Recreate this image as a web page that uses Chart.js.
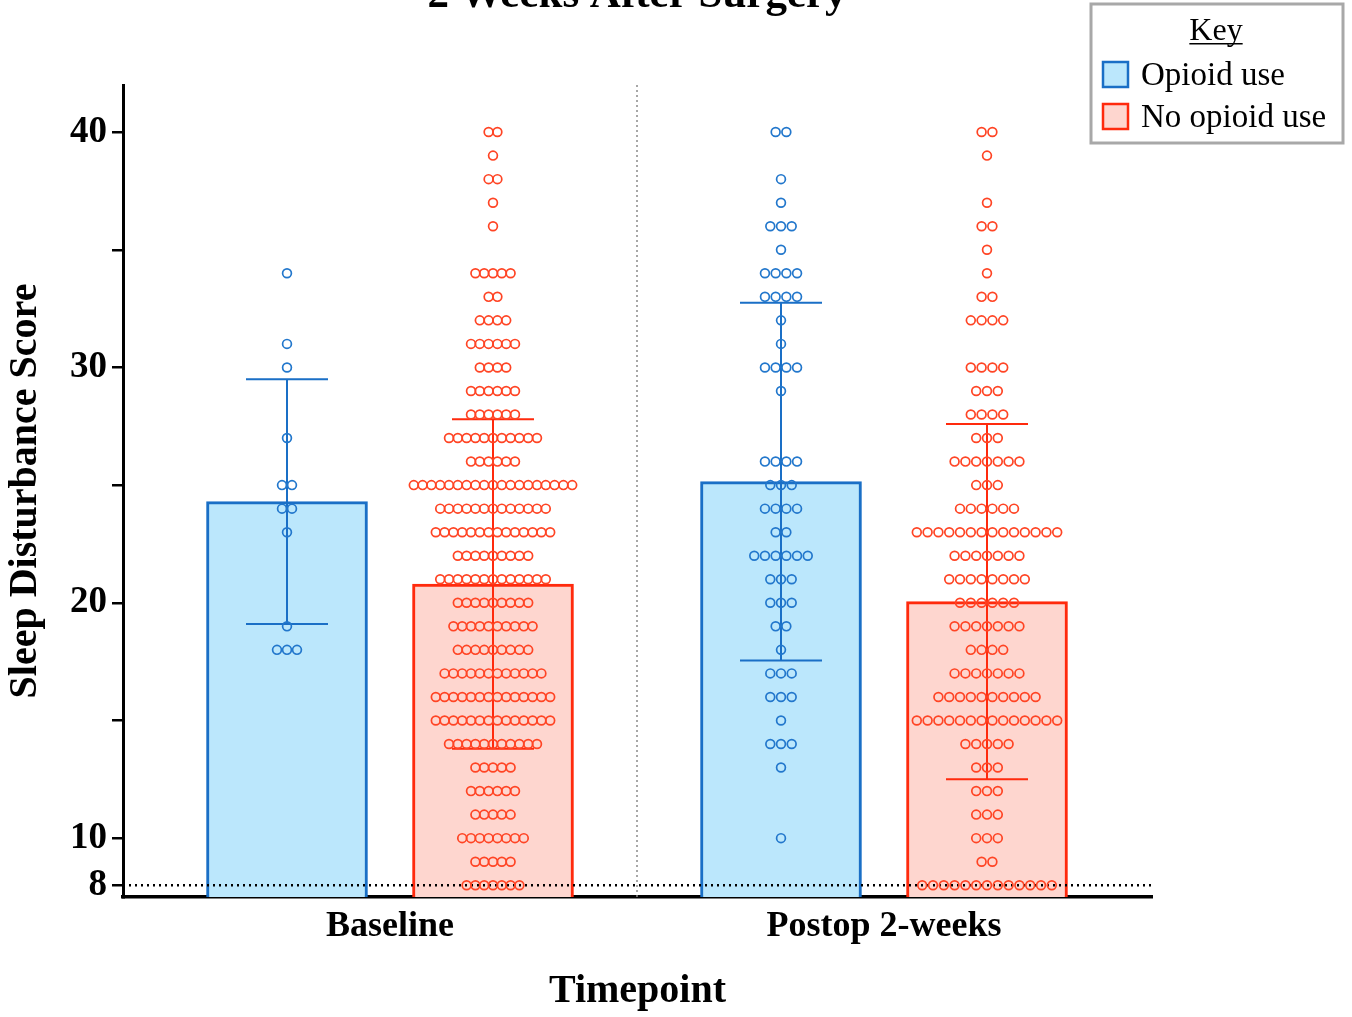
<!DOCTYPE html>
<html>
<head>
<meta charset="utf-8">
<script src="https://cdn.jsdelivr.net/npm/chart.js@4.4.1/dist/chart.umd.min.js"></script>
<style>
html, body { margin: 0; padding: 0; background: #fff; }
</style>
</head>
<body>
<canvas id="chart" width="1352" height="1017"></canvas>
<script>
var timepoints = ['Baseline', 'Postop 2-weeks'];

// bar height (mean) and SD
var opioidMean = [24.3, 25.15];
var opioidSD = [5.2, 7.6];
var noOpioidMean = [20.8, 20.05];
var noOpioidSD = [7.0, 7.55];

// individual scores: score level + number of patients on it
var baseOpioidScores = [34, 31, 30, 27, 25, 24, 23, 19, 18];
var baseOpioidCounts = [1, 1, 1, 1, 2, 2, 1, 1, 3];
var baseNoScores = [40, 39, 38, 37, 36, 34, 33, 32, 31, 30, 29, 28, 27, 26, 25, 24, 23, 22, 21, 20, 19, 18, 17, 16, 15, 14, 13, 12, 11, 10, 9, 8];
var baseNoCounts = [2, 1, 2, 1, 1, 5, 2, 4, 6, 4, 6, 6, 11, 6, 19, 13, 14, 9, 13, 9, 10, 9, 12, 14, 14, 11, 5, 6, 5, 8, 5, 7];
var postOpioidScores = [40, 38, 37, 36, 35, 34, 33, 32, 31, 30, 29, 26, 25, 24, 23, 22, 21, 20, 19, 18, 17, 16, 15, 14, 13, 10];
var postOpioidCounts = [2, 1, 1, 3, 1, 4, 4, 1, 1, 4, 1, 4, 3, 4, 2, 6, 3, 3, 2, 1, 3, 3, 1, 3, 1, 1];
var postNoScores = [40, 39, 37, 36, 35, 34, 33, 32, 30, 29, 28, 27, 26, 25, 24, 23, 22, 21, 20, 19, 18, 17, 16, 15, 14, 13, 12, 11, 10, 9, 8];
var postNoCounts = [2, 1, 1, 2, 1, 1, 2, 4, 4, 3, 4, 3, 7, 3, 6, 14, 7, 8, 6, 7, 4, 7, 10, 14, 5, 3, 3, 3, 3, 2, 13];

var yTicks = [8, 10, 15, 20, 25, 30, 35, 40];
var yLabelled = [8, 10, 20, 30, 40];

// layout (x axis runs 0..10.29, ~100px per unit)
var groupCenter = [2.67, 7.61];
var barShift = 1.03;
var capHalf = 0.41;
var serif = "'Liberation Serif', 'Times New Roman', serif";

var BLUE = '#1a6fc6', BLUE_FILL = '#bbe7fc', BLUE_DOT = '#2277cc';
var RED = '#ff2a0d', RED_FILL = '#fed6cf', RED_DOT = '#ff4424';

function swarm(scores, counts, cx, gap) {
  var pts = [];
  for (var i = 0; i < scores.length; i++) {
    for (var j = 0; j < counts[i]; j++) {
      pts.push({x: cx + (j - (counts[i] - 1) / 2) * gap, y: scores[i]});
    }
  }
  return pts;
}

function errPath(means, sds, shift) {
  var pts = [];
  for (var i = 0; i < means.length; i++) {
    var c = groupCenter[i] + shift;
    var lo = means[i] - sds[i], hi = means[i] + sds[i];
    pts.push({x: c - capHalf, y: lo}, {x: c + capHalf, y: lo}, {x: c, y: null});
    pts.push({x: c, y: lo}, {x: c, y: hi}, {x: c, y: null});
    pts.push({x: c - capHalf, y: hi}, {x: c + capHalf, y: hi}, {x: c + capHalf, y: null});
  }
  return pts;
}

function barData(means, shift) {
  return means.map(function(m, i) { return {x: groupCenter[i] + shift, y: m}; });
}

function dots(pts, color) {
  return {
    type: 'scatter', data: pts, order: 1,
    pointStyle: 'circle', pointRadius: 4.4, pointBorderWidth: 1.7,
    pointBorderColor: color, pointBackgroundColor: 'rgba(0,0,0,0)',
    borderColor: color, backgroundColor: 'rgba(0,0,0,0)'
  };
}

function errLine(pts, color) {
  return {
    type: 'line', data: pts, order: 2, borderColor: color, borderWidth: 2,
    pointRadius: 0, fill: false, tension: 0, spanGaps: false
  };
}

var keyBox = {
  id: 'keyBox',
  afterDraw: function(chart) {
    var ctx = chart.ctx;
    ctx.save();
    ctx.fillStyle = '#fff';
    ctx.fillRect(1091, 4, 252, 139);
    ctx.strokeStyle = '#a8a8a8';
    ctx.lineWidth = 3;
    ctx.strokeRect(1091, 4, 252, 139);
    ctx.fillStyle = '#000';
    ctx.font = '32px ' + serif;
    ctx.textAlign = 'center';
    ctx.textBaseline = 'alphabetic';
    ctx.fillText('Key', 1216, 40);
    var w = ctx.measureText('Key').width;
    ctx.fillRect(1216 - w / 2, 43, w, 1.5);
    var bars = chart.data.datasets.filter(function(d) { return d.type === 'bar'; });
    ctx.font = '33px ' + serif;
    bars.forEach(function(d, i) {
      var y = 62 + i * 42;
      ctx.fillStyle = d.backgroundColor;
      ctx.fillRect(1103, y, 25, 25);
      ctx.strokeStyle = d.borderColor;
      ctx.lineWidth = 2.5;
      ctx.strokeRect(1103, y, 25, 25);
      ctx.fillStyle = '#000';
      ctx.textAlign = 'left';
      ctx.textBaseline = 'middle';
      ctx.fillText(d.label, 1141, y + 14);
    });
    // title, its top is cut off by the frame
    ctx.font = 'bold 43px ' + serif;
    ctx.textAlign = 'center';
    ctx.textBaseline = 'alphabetic';
    ctx.fillText('2 Weeks After Surgery', 637, 7);
    ctx.restore();
  }
};

var sep = (groupCenter[0] + groupCenter[1]) / 2;

var ctx = document.getElementById('chart').getContext('2d');
var myChart = new Chart(ctx, {
  type: 'scatter',
  data: {
    datasets: [
      {type: 'bar', label: 'Opioid use', data: barData(opioidMean, -barShift), grouped: false,
       barThickness: 161, backgroundColor: BLUE_FILL, borderColor: BLUE, borderWidth: 3, order: 5},
      {type: 'bar', label: 'No opioid use', data: barData(noOpioidMean, barShift), grouped: false,
       barThickness: 161, backgroundColor: RED_FILL, borderColor: RED, borderWidth: 3, order: 5},
      {type: 'line', data: [{x: 0, y: 8}, {x: 10.29, y: 8}], borderColor: '#000', borderWidth: 2.5,
       borderDash: [2, 4], pointRadius: 0, fill: false, order: 3},
      {type: 'line', data: [{x: sep, y: 7.5}, {x: sep, y: 42}], borderColor: '#8a8a8a', borderWidth: 1.5,
       borderDash: [2, 3], pointRadius: 0, fill: false, order: 6},
      errLine(errPath(opioidMean, opioidSD, -barShift), BLUE),
      errLine(errPath(noOpioidMean, noOpioidSD, barShift), RED),
      dots(swarm(baseOpioidScores, baseOpioidCounts, groupCenter[0] - barShift, 0.10), BLUE_DOT),
      dots(swarm(baseNoScores, baseNoCounts, groupCenter[0] + barShift, 0.088), RED_DOT),
      dots(swarm(postOpioidScores, postOpioidCounts, groupCenter[1] - barShift, 0.107), BLUE_DOT),
      dots(swarm(postNoScores, postNoCounts, groupCenter[1] + barShift, 0.108), RED_DOT)
    ]
  },
  options: {
    responsive: false,
    animation: false,
    layout: { padding: { left: 0, top: 85, right: 200, bottom: 0 } },
    plugins: { legend: { display: false }, tooltip: { enabled: false } },
    scales: {
      x: {
        type: 'linear', min: 0, max: 10.29, offset: false,
        afterBuildTicks: function(axis) { axis.ticks = groupCenter.map(function(v) { return {value: v}; }); },
        ticks: {
          autoSkip: false, maxRotation: 0, color: '#000', padding: 8,
          font: { family: serif, size: 36, weight: 'bold' },
          callback: function(v, i) { return timepoints[i]; }
        },
        grid: { display: false, drawTicks: false },
        border: { color: '#000', width: 3.5 },
        title: { display: true, text: 'Timepoint', color: '#000',
                 font: { family: serif, size: 40, weight: 'bold' }, padding: { top: 0, bottom: 1 } },
        afterFit: function(s) { s.height = 120; }
      },
      y: {
        type: 'linear', min: 7.5, max: 42,
        afterBuildTicks: function(axis) { axis.ticks = yTicks.map(function(v) { return {value: v}; }); },
        ticks: {
          autoSkip: false, color: '#000', padding: 5,
          font: { family: serif, size: 37, weight: 'bold' },
          callback: function(v) { return yLabelled.indexOf(v) >= 0 ? String(v) : ''; }
        },
        grid: { drawOnChartArea: false, drawTicks: true, tickLength: 11, lineWidth: 2.5, color: '#000' },
        border: { color: '#000', width: 3 },
        title: { display: true, text: 'Sleep Disturbance Score', color: '#000',
                 font: { family: serif, size: 40, weight: 'bold' }, padding: { top: 2, bottom: 0 } },
        afterFit: function(s) { s.width = 123; }
      }
    }
  },
  plugins: [keyBox]
});
</script>
</body>
</html>
